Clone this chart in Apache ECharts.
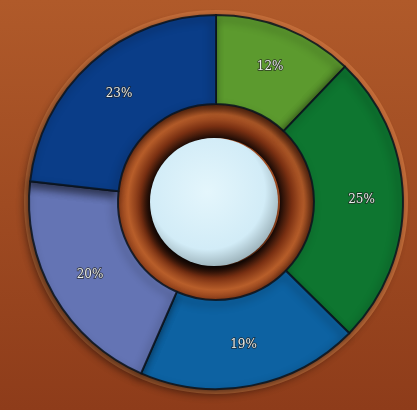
<!DOCTYPE html>
<html><head><meta charset="utf-8">
<script src="https://cdn.jsdelivr.net/npm/echarts@6/dist/echarts.min.js"></script>
<style>html,body{margin:0;padding:0;}#c{width:417px;height:410px;}</style>
</head><body><div id="c"></div>
<script>
var labels = ['12%', '25%', '19%', '20%', '23%'];
var values = [12, 25, 19, 20, 23];
var colors = ['#5c9a2e', '#0e7630', '#0d62a2', '#6474b4', '#0a3d88'];

var chart = echarts.init(document.getElementById('c'));
var data = values.map(function (v, i) {
  return { value: v, name: labels[i], itemStyle: { color: colors[i] } };
});
chart.setOption({
  backgroundColor: new echarts.graphic.LinearGradient(0, 0, 0, 1, [
    {offset: 0, color: '#b05a2a'},
    {offset: 1, color: '#8e3c1a'}
  ]),
  animation: false,
  series: [
    {
      type: 'pie', silent: true, center: [216, 202], radius: [185, 192],
      label: {show: false}, labelLine: {show: false},
      itemStyle: {color: '#c66e3a'},
      data: [{value: 1}]
    },
    {
      type: 'pie', silent: true, center: [216, 202], radius: [64, 100],
      label: {show: false}, labelLine: {show: false},
      itemStyle: {
        color: new echarts.graphic.RadialGradient(0.5, 0.5, 0.5, [
          {offset: 0.64, color: '#1a0a05'},
          {offset: 0.76, color: '#7a3012'},
          {offset: 0.88, color: '#b85e2a'},
          {offset: 1, color: '#8a3a18'}
        ])
      },
      data: [{value: 1}]
    },
    {
      type: 'pie', silent: true, center: [214, 202], radius: [0, 64],
      label: {show: false}, labelLine: {show: false},
      itemStyle: {
        color: new echarts.graphic.RadialGradient(0.45, 0.42, 0.6, [
          {offset: 0, color: '#e4f6fc'},
          {offset: 0.75, color: '#d2ecf7'},
          {offset: 1, color: '#9ab0b8'}
        ]),
        shadowBlur: 10, shadowColor: 'rgba(0,0,0,0.7)', shadowOffsetX: -4, shadowOffsetY: 6
      },
      data: [{value: 1}]
    },
    {
      type: 'pie',
      center: [216, 202],
      radius: [98, 187],
      startAngle: 90,
      clockwise: true,
      data: data,
      itemStyle: {
        borderColor: 'rgba(10,20,30,0.85)', borderWidth: 2,
        shadowBlur: 8, shadowColor: 'rgba(0,0,0,0.55)', shadowOffsetX: -3, shadowOffsetY: 4
      },
      label: {
        show: true, position: 'inside', formatter: '{b}',
        fontFamily: 'DejaVu Serif', fontSize: 12,
        color: '#e8ece8', textBorderColor: 'rgba(30,30,30,0.8)', textBorderWidth: 1.5
      },
      labelLine: {show: false}
    }
  ]
});
</script></body></html>
